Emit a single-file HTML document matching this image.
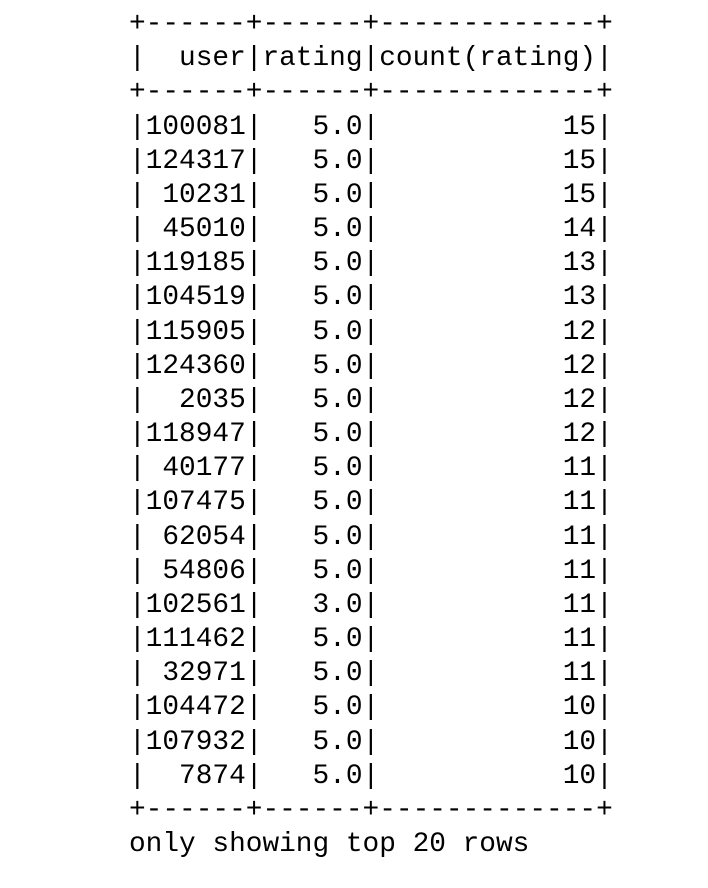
<!DOCTYPE html>
<html><head><meta charset="utf-8"><style>
html,body{margin:0;padding:0;background:#fff;width:708px;height:888px;overflow:hidden}
pre{position:absolute;left:129px;top:8px;margin:0;font-family:"Liberation Mono",monospace;font-size:27.8px;line-height:34.17px;color:#000}
</style></head><body>
<pre>+------+------+-------------+
|  user|rating|count(rating)|
+------+------+-------------+
|100081|   5.0|           15|
|124317|   5.0|           15|
| 10231|   5.0|           15|
| 45010|   5.0|           14|
|119185|   5.0|           13|
|104519|   5.0|           13|
|115905|   5.0|           12|
|124360|   5.0|           12|
|  2035|   5.0|           12|
|118947|   5.0|           12|
| 40177|   5.0|           11|
|107475|   5.0|           11|
| 62054|   5.0|           11|
| 54806|   5.0|           11|
|102561|   3.0|           11|
|111462|   5.0|           11|
| 32971|   5.0|           11|
|104472|   5.0|           10|
|107932|   5.0|           10|
|  7874|   5.0|           10|
+------+------+-------------+
<span>only showing top 20 rows</span></pre>
</body></html>
